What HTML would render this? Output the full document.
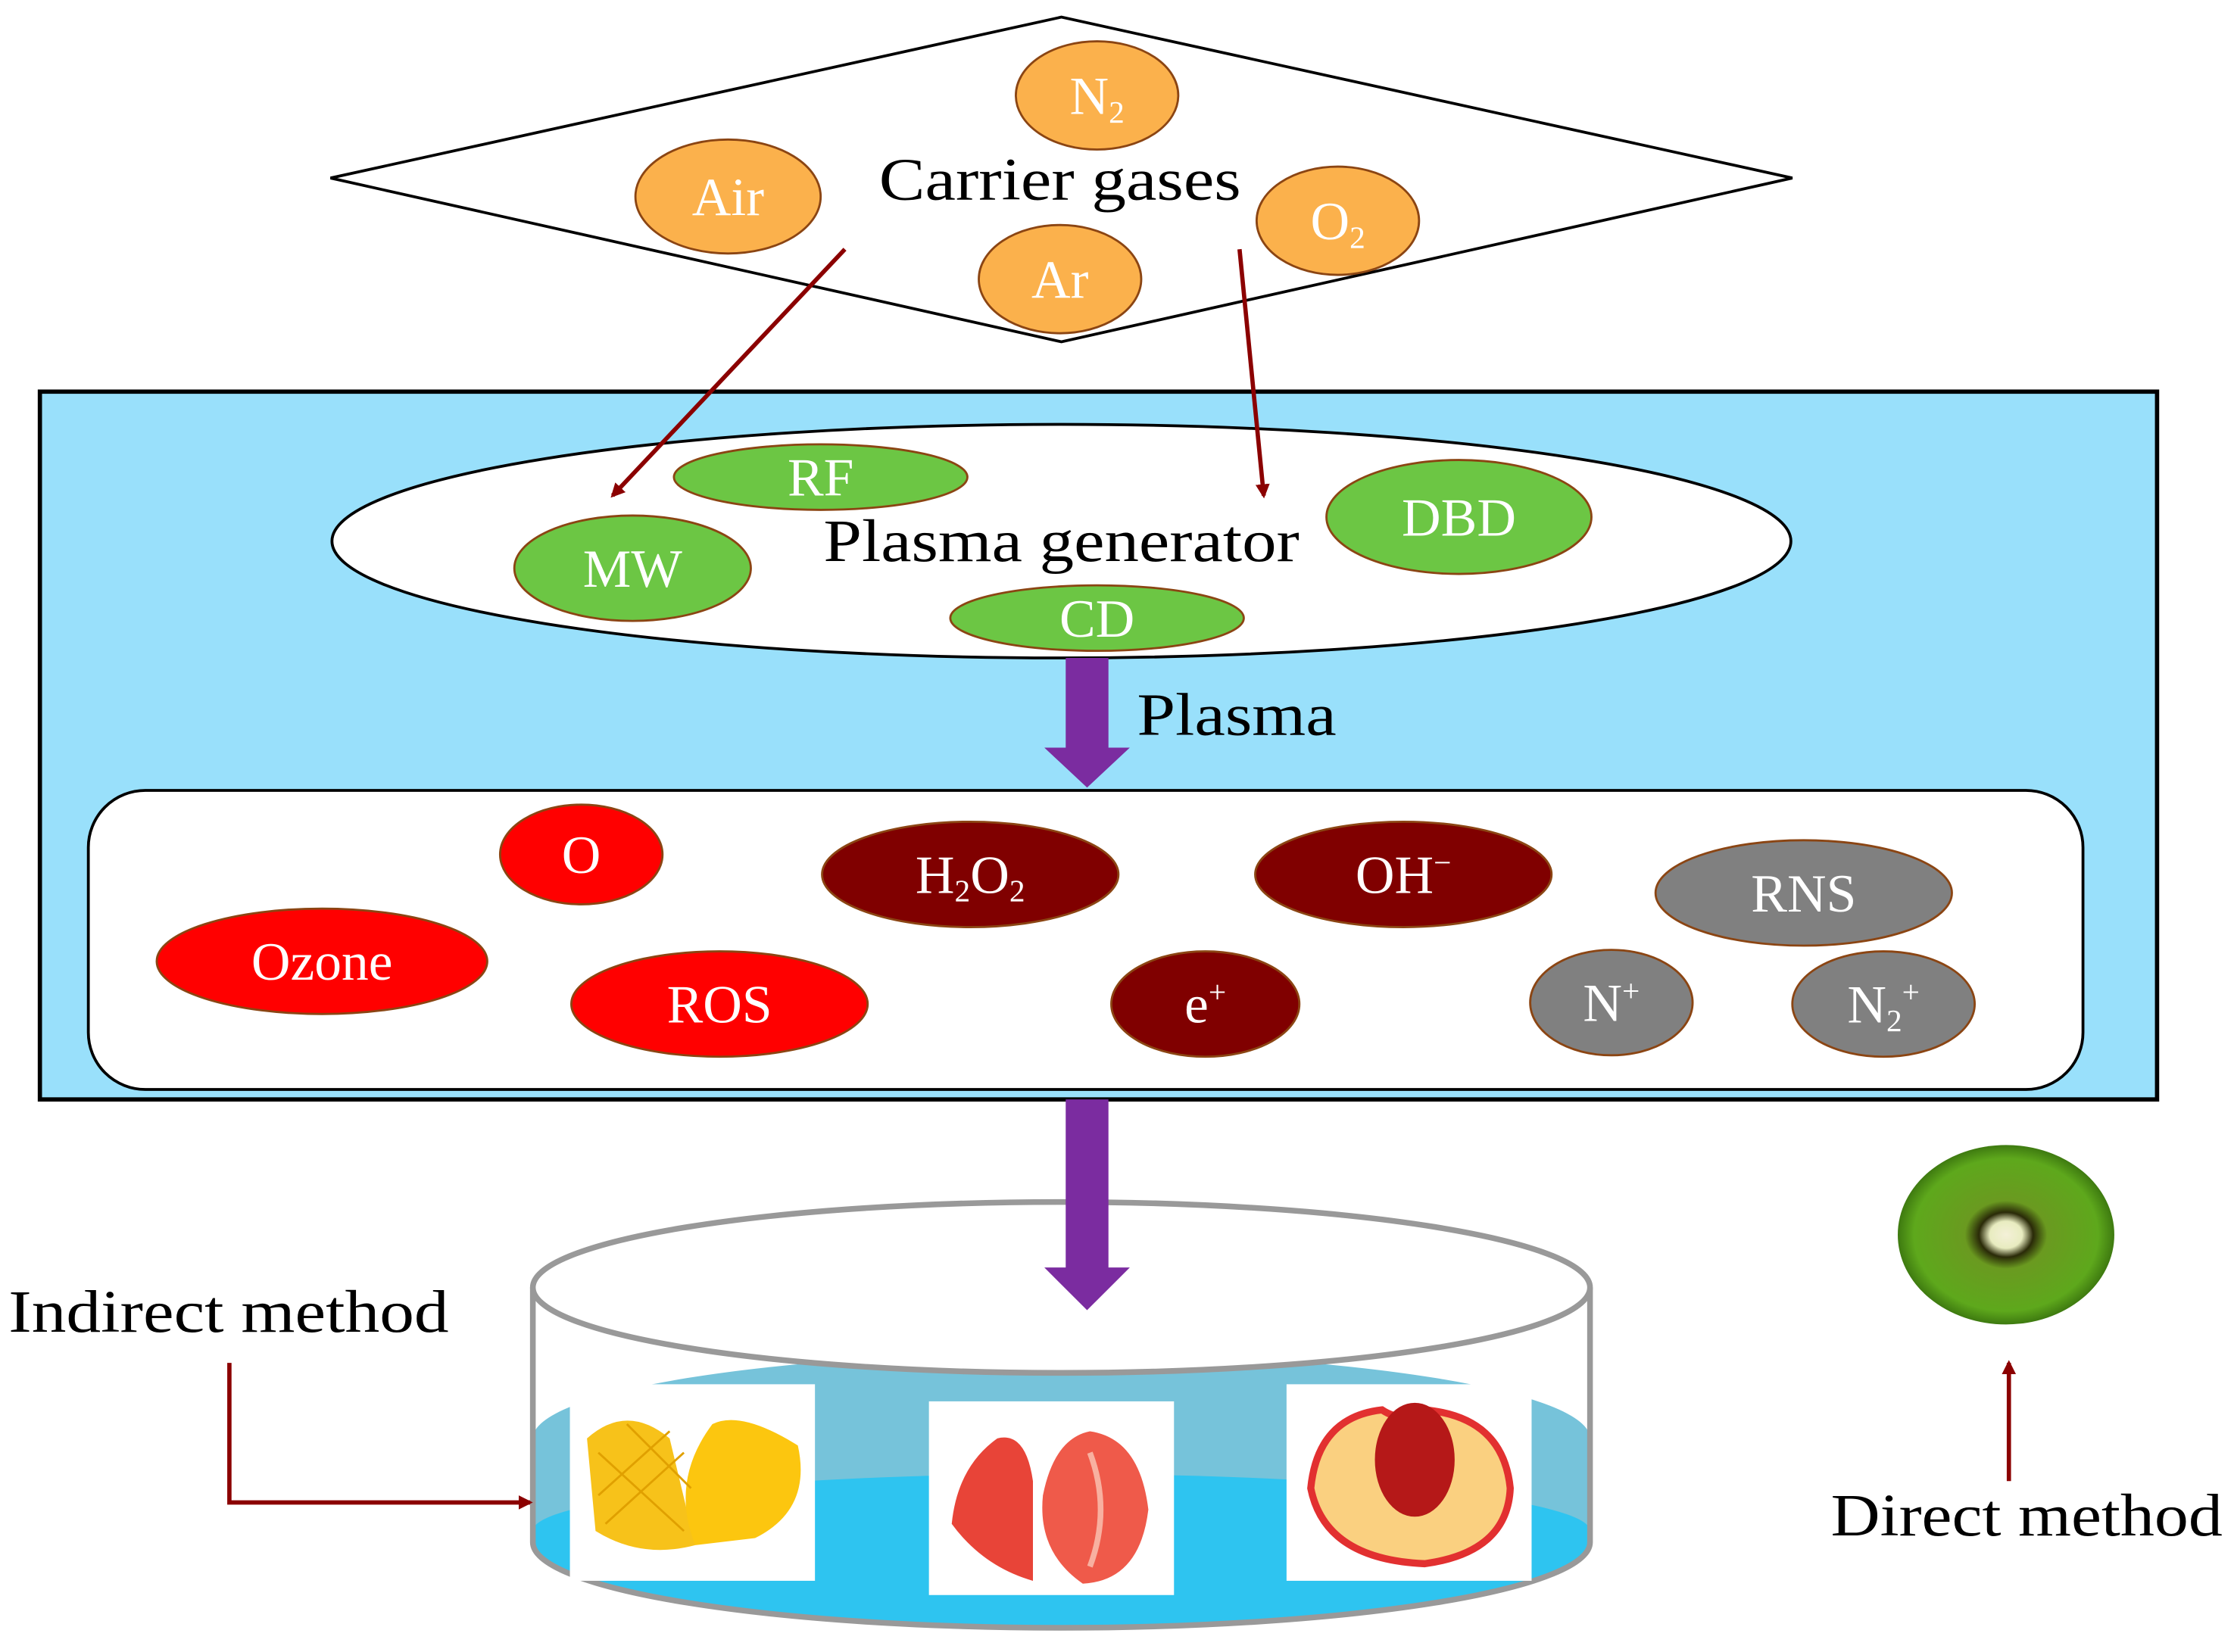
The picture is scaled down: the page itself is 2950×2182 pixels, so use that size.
<!DOCTYPE html>
<html><head><meta charset="utf-8"><style>
html,body{margin:0;padding:0;background:#fff;}
svg{display:block;}
text{font-family:"Liberation Serif",serif;}
</style></head><body>
<svg width="2950" height="2182" viewBox="0 0 1568 1160" preserveAspectRatio="none" xmlns="http://www.w3.org/2000/svg">
<defs>
<marker id="ah" markerWidth="10" markerHeight="10" refX="8" refY="5" orient="auto" markerUnits="userSpaceOnUse"><path d="M0,0 L10,5 L0,10 z" fill="#8b0000"/></marker>
<radialGradient id="kiwi" cx="50%" cy="50%" r="50%"><stop offset="0%" stop-color="#f4f0d8"/><stop offset="15%" stop-color="#e8ecc0"/><stop offset="25%" stop-color="#2a2a08"/><stop offset="38%" stop-color="#6a9a20"/><stop offset="85%" stop-color="#5ea81c"/><stop offset="100%" stop-color="#3e7a10"/></radialGradient>
</defs>
<polygon points="232,125 745,12 1258,125 745,240" fill="#fff" stroke="#000" stroke-width="2"/>
<g stroke="#8b4513" stroke-width="1.5" fill="#fbb14c">
<ellipse cx="770" cy="67" rx="57" ry="38"/>
<ellipse cx="511" cy="138" rx="65" ry="40"/>
<ellipse cx="939" cy="155" rx="57" ry="38"/>
<ellipse cx="744" cy="196" rx="57" ry="38"/>
</g>
<g fill="#fff" font-size="38" text-anchor="middle">
<text x="770" y="80">N<tspan font-size="22" dy="6">2</tspan></text>
<text x="511" y="151">Air</text>
<text x="939" y="168">O<tspan font-size="22" dy="6">2</tspan></text>
<text x="744" y="209">Ar</text>
</g>
<text x="617" y="140" font-size="42" textLength="254" lengthAdjust="spacingAndGlyphs">Carrier gases</text>
<rect x="28" y="275" width="1486" height="497" fill="#99e0fb" stroke="#000" stroke-width="3"/>
<ellipse cx="745" cy="380" rx="512" ry="82" fill="#fff" stroke="#000" stroke-width="2"/>
<g fill="#6cc644" stroke="#8b4513" stroke-width="1.5">
<ellipse cx="576" cy="335" rx="103" ry="23"/>
<ellipse cx="444" cy="399" rx="83" ry="37"/>
<ellipse cx="1024" cy="363" rx="93" ry="40"/>
<ellipse cx="770" cy="434" rx="103" ry="23"/>
</g>
<g fill="#fff" font-size="38" text-anchor="middle">
<text x="576" y="348">RF</text>
<text x="444" y="412">MW</text>
<text x="1024" y="376">DBD</text>
<text x="770" y="447">CD</text>
</g>
<text x="578" y="394" font-size="42" textLength="334" lengthAdjust="spacingAndGlyphs">Plasma generator</text>
<line x1="593" y1="175" x2="430" y2="348" stroke="#8b0000" stroke-width="3" marker-end="url(#ah)"/>
<line x1="870" y1="175" x2="887" y2="348" stroke="#8b0000" stroke-width="3" marker-end="url(#ah)"/>
<polygon points="748,462 778,462 778,525 793,525 763,553 733,525 748,525" fill="#7b2ca0"/>
<text x="798" y="516" font-size="42" textLength="140" lengthAdjust="spacingAndGlyphs">Plasma</text>
<rect x="62" y="555" width="1400" height="210" rx="40" fill="#fff" stroke="#000" stroke-width="2"/>
<g stroke="#8b4513" stroke-width="1.5">
<ellipse cx="408" cy="600" rx="57" ry="35" fill="#ff0000"/>
<ellipse cx="681" cy="614" rx="104" ry="37" fill="#800000"/>
<ellipse cx="985" cy="614" rx="104" ry="37" fill="#800000"/>
<ellipse cx="1266" cy="627" rx="104" ry="37" fill="#808080"/>
<ellipse cx="226" cy="675" rx="116" ry="37" fill="#ff0000"/>
<ellipse cx="505" cy="705" rx="104" ry="37" fill="#ff0000"/>
<ellipse cx="846" cy="705" rx="66" ry="37" fill="#800000"/>
<ellipse cx="1131" cy="704" rx="57" ry="37" fill="#808080"/>
<ellipse cx="1322" cy="705" rx="64" ry="37" fill="#808080"/>
</g>
<g fill="#fff" font-size="38" text-anchor="middle">
<text x="408" y="613">O</text>
<text x="681" y="627">H<tspan font-size="22" dy="6">2</tspan><tspan dy="-6">O</tspan><tspan font-size="22" dy="6">2</tspan></text>
<text x="985" y="627">OH<tspan font-size="22" dy="-14">−</tspan></text>
<text x="1266" y="640">RNS</text>
<text x="226" y="688">Ozone</text>
<text x="505" y="718">ROS</text>
<text x="846" y="718">e<tspan font-size="22" dy="-14">+</tspan></text>
<text x="1131" y="717">N<tspan font-size="22" dy="-14">+</tspan></text>
<text x="1322" y="718">N<tspan font-size="22" dy="6">2</tspan><tspan font-size="22" dy="-20">+</tspan></text>
</g>
<path d="M374,904 L374,1083 A371,60 0 0 0 1116,1083 L1116,904" fill="#fff"/>
<path d="M374,1010 A371,60 0 0 1 1116,1010 L1116,1083 A371,60 0 0 1 374,1083 Z" fill="#76c3da"/>
<path d="M374,1075 A371,40 0 0 1 1116,1075 L1116,1083 A371,60 0 0 1 374,1083 Z" fill="#2ec4f0"/>
<path d="M374,1083 A371,60 0 0 0 1116,1083" fill="#2ec4f0"/>
<path d="M374,904 L374,1083 A371,60 0 0 0 1116,1083 L1116,904" fill="none" stroke="#999" stroke-width="4"/>
<ellipse cx="745" cy="904" rx="371" ry="60" fill="#fff" stroke="#999" stroke-width="4"/>
<rect x="400" y="972" width="172" height="138" fill="#fff"/>
<rect x="652" y="984" width="172" height="136" fill="#fff"/>
<rect x="903" y="972" width="172" height="138" fill="#fff"/>
<g>
<path d="M412,1010 Q440,985 470,1010 L488,1085 Q450,1095 418,1075 Z" fill="#f7c21a"/>
<path d="M488,1085 Q470,1040 500,1000 Q520,990 560,1015 Q570,1060 530,1080 Z" fill="#fcc60f"/>
<g stroke="#e0a000" stroke-width="1.5"><line x1="420" y1="1020" x2="480" y2="1075"/><line x1="420" y1="1050" x2="470" y2="1005"/><line x1="425" y1="1070" x2="480" y2="1020"/><line x1="440" y1="1000" x2="485" y2="1045"/></g>
</g>
<path d="M700,1010 Q720,1005 725,1040 L725,1110 Q690,1100 668,1070 Q672,1030 700,1010 Z" fill="#e84438"/>
<path d="M765,1005 Q800,1010 806,1060 Q800,1110 760,1112 Q728,1090 732,1050 Q740,1010 765,1005 Z" fill="#ef5a4a"/>
<path d="M765,1020 Q780,1060 765,1100" stroke="#f8b0a0" stroke-width="4" fill="none"/>
<path d="M1000,990 Q1055,995 1060,1045 Q1058,1090 1000,1098 Q930,1095 920,1045 Q925,995 970,990 Q985,1000 1000,990 Z" fill="#fad080" stroke="#e23030" stroke-width="5"/>
<ellipse cx="993" cy="1025" rx="28" ry="40" fill="#b51818"/>
<polygon points="748,772 778,772 778,890 793,890 763,920 733,890 748,890" fill="#7b2ca0"/>
<text x="6" y="935" font-size="42" textLength="309" lengthAdjust="spacingAndGlyphs">Indirect method</text>
<polyline points="161,957 161,1055 372,1055" fill="none" stroke="#8b0000" stroke-width="3" marker-end="url(#ah)"/>
<ellipse cx="1408" cy="867" rx="76" ry="63" fill="url(#kiwi)"/>
<line x1="1410" y1="1040" x2="1410" y2="957" stroke="#8b0000" stroke-width="3" marker-end="url(#ah)"/>
<text x="1285" y="1078" font-size="42" textLength="275" lengthAdjust="spacingAndGlyphs">Direct method</text>
</svg>
</body></html>
